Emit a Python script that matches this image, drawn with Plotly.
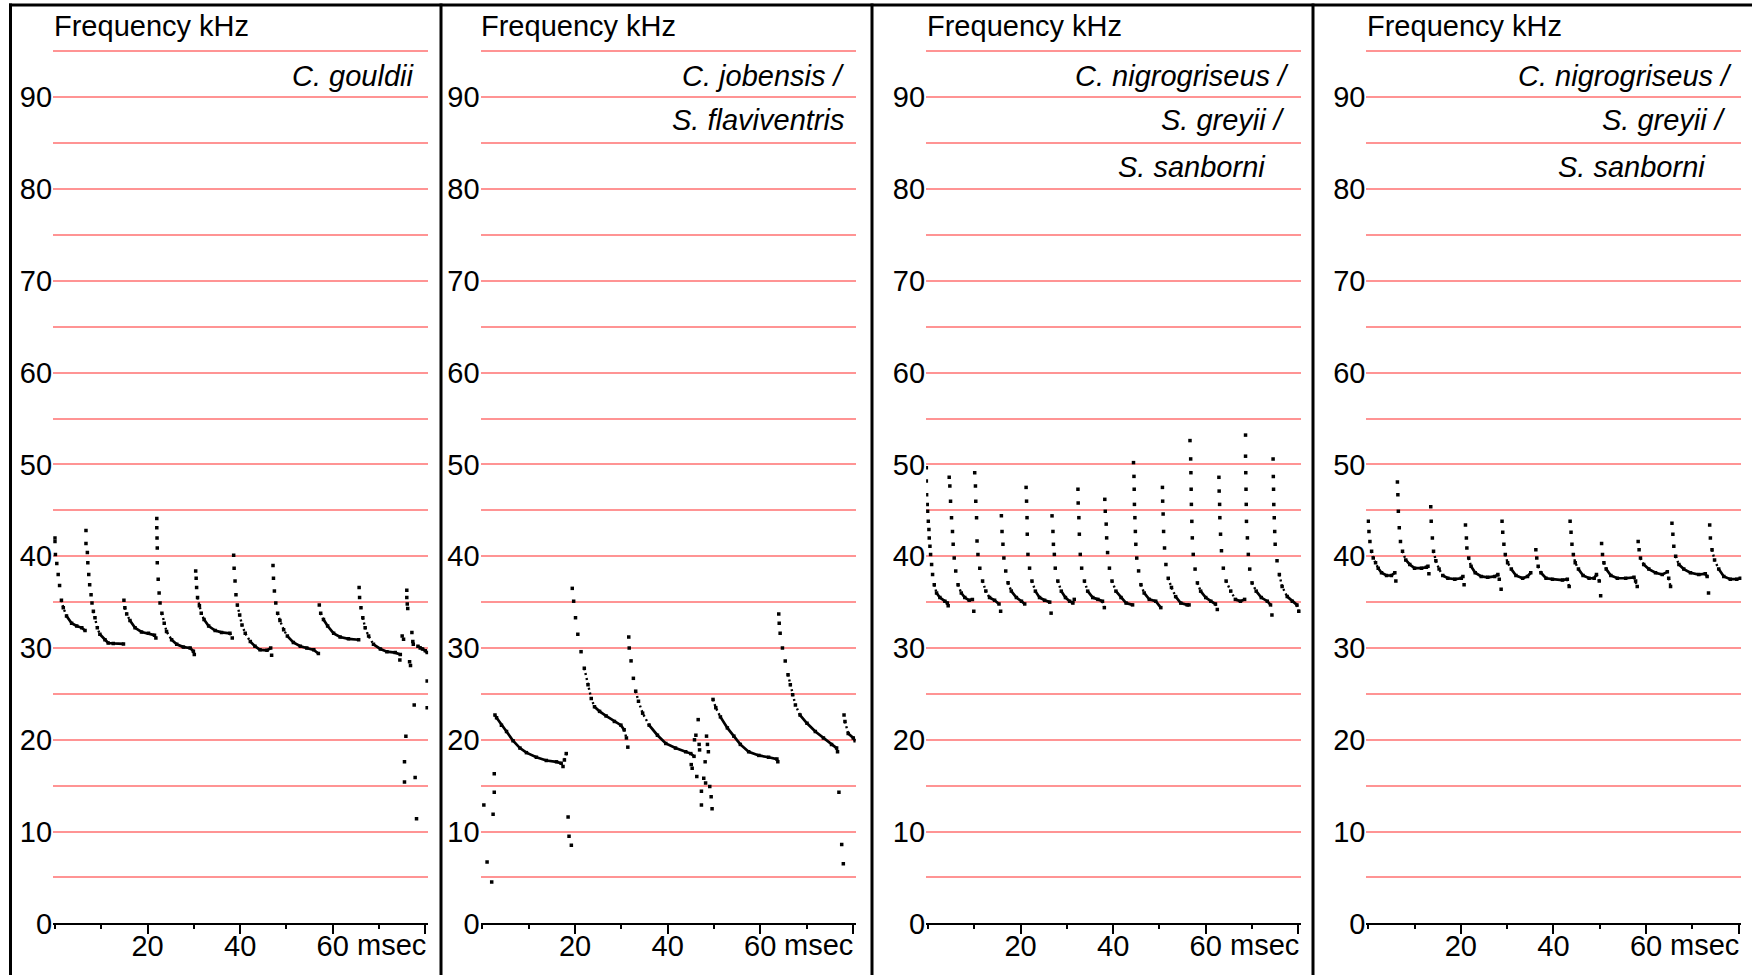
import plotly.graph_objects as go

# ---------------- data (time in msec, frequency in kHz) ----------------
P1_T = [
    [0.0, 0.0, 0.1, 0.4, 0.7, 1.0, 1.4, 1.8, 2.5, 3.6, 4.7, 5.8, 6.5],
    [6.7, 6.7, 7.0, 7.1, 7.3, 7.5, 7.8, 8.0, 8.3, 8.65, 9.15, 9.7, 10.8, 11.5, 12.6, 14.8],
    [14.9, 15.1, 15.5, 16.2, 17.3, 18.7, 20.2, 21.5, 21.8],
    [22.0, 22.0, 22.05, 22.1, 22.1, 22.3, 22.5, 22.7, 23.1, 23.6, 24.1, 25.2, 26.3, 27.75, 29.2, 29.9, 30.1],
    [30.4, 30.5, 30.6, 30.8, 31.2, 31.6, 32.2, 33.2, 34.6, 36.0, 37.8, 38.3],
    [38.6, 38.7, 38.9, 39.1, 39.4, 39.9, 40.4, 41.1, 42.2, 43.2, 44.3, 45.8, 46.6],
    [47.1, 47.2, 47.4, 47.7, 48.1, 48.6, 49.4, 50.2, 51.5, 53.0, 54.4, 55.9, 56.9],
    [57.1, 57.4, 58.0, 58.9, 60.2, 61.6, 63.4, 65.6],
    [65.7, 65.8, 66.1, 66.5, 67.0, 67.75, 68.8, 70.3, 71.7, 73.5, 74.6],
    [78.4, 78.9, 79.4, 80.0, 80.4],
]
P1_F = [
    [42.0, 41.6, 40.2, 39.2, 38.0, 36.8, 35.2, 34.4, 33.5, 32.7, 32.4, 32.2, 31.9],
    [42.8, 41.4, 40.4, 39.3, 38.0, 36.9, 35.8, 34.9, 34.0, 33.3, 32.2, 31.5, 30.9, 30.55, 30.5, 30.45],
    [35.2, 34.4, 33.7, 33.0, 32.2, 31.75, 31.6, 31.4, 31.1],
    [44.1, 43.1, 42.0, 40.9, 39.3, 37.5, 36.0, 34.9, 33.8, 32.7, 31.8, 30.9, 30.4, 30.1, 30.0, 29.65, 29.3],
    [38.4, 37.6, 36.6, 35.5, 34.6, 33.8, 33.1, 32.4, 31.9, 31.7, 31.6, 31.1],
    [40.1, 38.7, 37.3, 35.8, 34.7, 33.6, 32.5, 31.6, 30.7, 30.2, 29.8, 29.75, 30.0],
    [39.0, 37.6, 36.2, 34.9, 33.8, 33.0, 32.0, 31.3, 30.6, 30.2, 30.0, 29.8, 29.4],
    [34.7, 33.8, 33.1, 32.4, 31.6, 31.2, 31.0, 30.9],
    [36.6, 35.5, 34.4, 33.3, 32.2, 31.3, 30.4, 29.9, 29.6, 29.5, 29.3],
    [30.2, 30.0, 29.9, 29.7, 29.5],
]
P1_NOISE_T = [76.0, 76.0, 76.1, 76.2, 75.0, 75.3, 77.1, 77.3, 77.4, 74.5, 76.6, 76.8,
              80.4, 77.6, 80.4, 75.8, 75.5, 75.5, 77.8, 78.1, 46.8]
P1_NOISE_F = [36.3, 35.5, 34.8, 34.3, 31.3, 30.95, 31.7, 30.7, 30.4, 28.7, 28.5, 28.1,
              26.4, 23.8, 23.5, 20.4, 17.6, 15.4, 15.9, 11.4, 29.2]

P2_T = [
    [2.7, 3.05, 4.1, 5.2, 6.6, 8.1, 9.5, 11.65, 13.8, 16.0, 17.0, 17.4, 17.7, 18.1],
    [19.4, 19.7, 20.1, 20.6, 21.3, 22.0, 22.8, 23.5, 24.2, 25.3, 26.7, 28.5, 29.9, 30.6, 31.1, 31.4],
    [31.6, 31.7, 32.1, 32.6, 33.1, 33.7, 34.6, 36.0, 37.8, 39.6, 41.7, 43.9, 45.0, 45.7],
    [49.8, 50.4, 51.4, 52.9, 54.3, 55.7, 57.5, 59.7, 61.8, 63.6, 63.8],
    [64.0, 64.1, 64.3, 64.8, 65.4, 66.0, 66.5, 67.0, 67.6, 68.6, 70.1, 71.9, 73.65, 75.4, 76.5, 76.7],
    [78.1, 78.3, 79.0, 80.1, 80.5],
]
P2_F = [
    [22.7, 22.4, 21.6, 20.9, 19.9, 19.1, 18.6, 18.1, 17.75, 17.6, 17.45, 17.1, 17.8, 18.5],
    [36.5, 35.1, 33.3, 31.5, 29.6, 27.8, 26.0, 24.5, 23.6, 23.1, 22.6, 22.0, 21.6, 21.1, 20.2, 19.2],
    [31.2, 30.0, 28.6, 26.7, 25.3, 24.2, 22.9, 21.6, 20.5, 19.6, 19.1, 18.7, 18.5, 18.2],
    [24.4, 23.5, 22.5, 21.3, 20.4, 19.5, 18.7, 18.3, 18.1, 17.9, 17.6],
    [33.7, 32.7, 31.6, 30.0, 28.6, 27.1, 26.0, 24.9, 23.8, 22.7, 21.8, 20.9, 20.2, 19.5, 19.1, 18.7],
    [22.7, 22.0, 20.7, 20.2, 19.9],
]
P2_NOISE_T = [0.3, 1.0, 2.0, 2.3, 2.55, 2.55, 18.5, 18.7, 19.2,
              45.1, 45.3, 45.8, 46.1, 46.3, 46.6, 46.8, 46.9, 47.3, 47.3, 47.8, 48.1, 48.2,
              48.4, 48.6, 48.8, 49.1, 49.4, 49.6, 77.0, 77.6, 77.95]
P2_NOISE_F = [12.9, 6.7, 4.5, 11.9, 16.3, 14.3, 11.6, 9.5, 8.5,
              17.3, 16.9, 20.0, 20.5, 16.0, 22.2, 19.5, 18.9, 14.4, 12.9, 15.8, 17.6, 15.3,
              20.4, 19.5, 18.7, 14.9, 13.8, 12.5, 14.3, 8.6, 6.5]

P3_T = [
    [-0.35, -0.35, -0.29, -0.15, -0.07, 0.07, 0.21, 0.28, 0.43, 0.57, 0.79, 1.0, 1.36, 1.86, 2.58, 3.66, 4.2, 4.37],
    [4.59, 4.73, 4.88, 5.09, 5.3, 5.45, 5.67, 6.0, 6.5, 7.2, 7.96, 8.9, 9.6, 9.9],
    [10.1, 10.26, 10.33, 10.5, 10.6, 10.8, 11.2, 11.8, 12.5, 13.3, 14.4, 15.35, 15.7],
    [15.86, 16.0, 16.2, 16.4, 16.8, 17.3, 18.0, 19.1, 20.2, 20.9],
    [21.2, 21.3, 21.4, 21.45, 21.6, 21.95, 22.46, 23.2, 24.1, 25.2, 26.3, 26.6],
    [26.8, 27.0, 27.1, 27.3, 27.5, 28.05, 28.8, 29.7, 30.6, 31.3, 31.6],
    [32.4, 32.45, 32.6, 32.7, 32.9, 33.2, 33.8, 34.5, 35.6, 36.7, 37.7, 38.1],
    [38.2, 38.3, 38.5, 38.6, 38.8, 39.2, 39.75, 40.6, 41.7, 42.8, 44.2],
    [44.4, 44.5, 44.55, 44.6, 44.7, 44.8, 44.9, 45.1, 45.5, 46.0, 46.7, 47.8, 49.2, 50.3],
    [50.65, 50.7, 50.8, 50.9, 51.1, 51.4, 51.9, 52.6, 53.5, 54.6, 56.0, 56.4],
    [56.6, 56.75, 56.8, 56.85, 56.9, 57.0, 57.1, 57.3, 57.7, 58.2, 58.9, 60.0, 61.1, 62.1, 62.5],
    [62.85, 62.9, 63.0, 63.05, 63.2, 63.4, 63.8, 64.4, 65.4, 66.4, 67.5, 68.4],
    [68.6, 68.6, 68.65, 68.7, 68.75, 68.8, 69.0, 69.2, 69.5, 70.0, 70.9, 72.0, 73.3, 74.0, 74.3],
    [74.55, 74.6, 74.65, 74.7, 74.8, 74.9, 75.0, 75.4, 75.9, 76.5, 77.6, 78.7, 79.7, 80.1],
]
P3_F = [
    [49.65, 48.2, 46.7, 45.65, 44.9, 43.8, 42.9, 42.0, 41.1, 40.2, 39.1, 38.0, 36.9, 36.0, 35.5, 35.1, 34.9, 34.6],
    [48.6, 47.65, 46.0, 44.2, 42.7, 41.3, 39.8, 38.4, 36.9, 36.0, 35.5, 35.2, 35.3, 34.0],
    [49.1, 47.65, 46.0, 44.2, 41.65, 40.2, 38.7, 37.3, 36.2, 35.5, 35.2, 34.8, 34.0],
    [44.4, 42.7, 41.3, 39.8, 38.4, 37.1, 36.2, 35.5, 35.1, 34.8],
    [47.5, 46.0, 44.2, 42.4, 40.2, 38.7, 37.3, 36.2, 35.5, 35.2, 35.0, 33.8],
    [44.4, 42.7, 41.3, 40.2, 38.7, 37.3, 36.2, 35.5, 35.1, 34.9, 35.3],
    [47.3, 45.8, 44.2, 42.4, 40.2, 38.7, 37.3, 36.2, 35.5, 35.3, 35.1, 34.4],
    [46.2, 44.9, 43.5, 42.0, 40.4, 38.7, 37.3, 36.2, 35.5, 34.9, 34.7],
    [50.2, 48.7, 47.3, 45.65, 44.2, 42.7, 41.3, 39.8, 38.4, 36.9, 36.0, 35.3, 35.1, 34.4],
    [47.5, 46.0, 44.6, 42.7, 40.9, 39.1, 37.6, 36.6, 35.6, 34.9, 34.7, 34.7],
    [52.6, 50.6, 49.1, 47.3, 45.65, 43.8, 42.0, 40.2, 38.6, 37.1, 36.2, 35.5, 35.1, 34.8, 34.2],
    [48.6, 47.1, 45.65, 44.2, 42.4, 40.6, 38.7, 37.3, 36.2, 35.3, 35.1, 35.3],
    [53.2, 50.9, 49.1, 47.3, 45.65, 43.8, 42.0, 40.2, 38.6, 37.1, 36.2, 35.5, 35.1, 34.7, 33.6],
    [50.6, 48.7, 47.3, 45.65, 44.2, 42.7, 41.3, 39.5, 38.0, 36.7, 35.6, 35.1, 34.7, 34.0],
]
P3_NOISE_T = []
P3_NOISE_F = []

P4_T = [
    [0.0, 0.15, 0.36, 0.72, 1.08, 1.58, 2.15, 2.87, 3.95, 5.0, 5.74, 5.96],
    [6.3, 6.4, 6.5, 6.7, 6.96, 7.4, 8.1, 8.97, 10.0, 11.5, 12.56, 12.9, 13.1],
    [13.5, 13.6, 13.85, 14.1, 14.6, 15.3, 16.1, 17.2, 18.7, 20.1, 20.45, 20.7],
    [21.0, 21.2, 21.3, 21.7, 22.2, 23.1, 24.4, 25.8, 27.3, 28.0, 28.3, 28.7],
    [28.9, 29.05, 29.3, 29.6, 30.1, 30.9, 31.9, 33.35, 34.4, 35.1],
    [36.2, 36.4, 36.7, 37.3, 38.4, 39.8, 41.95, 43.0, 43.4],
    [43.6, 43.8, 44.0, 44.3, 44.7, 45.4, 46.4, 47.7, 48.8, 49.3, 49.9, 50.2],
    [50.4, 50.6, 50.9, 51.4, 52.4, 53.8, 55.6, 57.4, 57.75, 58.1],
    [58.3, 58.5, 58.8, 59.5, 60.6, 62.05, 63.5, 64.6, 64.9, 65.3],
    [65.6, 65.8, 66.0, 66.4, 67.1, 68.15, 69.6, 71.4, 72.8, 73.2, 73.5],
    [73.75, 73.9, 74.25, 74.8, 75.7, 76.8, 78.2, 79.6, 80.35],
]
P4_F = [
    [43.8, 42.7, 41.6, 40.55, 39.8, 39.3, 38.7, 38.2, 37.9, 37.9, 38.2, 37.3],
    [48.1, 46.7, 44.9, 43.1, 41.6, 40.55, 39.6, 39.1, 38.7, 38.7, 38.8, 38.9, 38.1],
    [45.4, 43.8, 42.0, 40.55, 39.5, 38.6, 37.9, 37.6, 37.5, 37.6, 37.8, 36.9],
    [43.4, 42.0, 40.9, 39.8, 38.9, 38.2, 37.8, 37.7, 37.8, 38.0, 37.5, 36.4],
    [43.8, 42.6, 41.3, 40.2, 39.3, 38.6, 37.9, 37.6, 37.8, 38.2],
    [40.7, 39.8, 38.9, 38.2, 37.6, 37.5, 37.4, 37.5, 36.7],
    [43.8, 42.6, 41.3, 40.2, 39.3, 38.6, 37.9, 37.6, 37.6, 38.0, 37.3, 35.7],
    [41.4, 40.2, 39.3, 38.6, 37.9, 37.6, 37.6, 37.7, 37.3, 36.7],
    [41.6, 40.7, 39.8, 39.1, 38.6, 38.2, 38.0, 38.3, 37.6, 36.7],
    [43.6, 42.4, 41.1, 40.0, 39.1, 38.6, 38.2, 38.0, 38.1, 37.8, 36.0],
    [43.4, 42.0, 40.7, 39.6, 38.6, 37.8, 37.5, 37.5, 37.6],
]
P4_NOISE_T = []
P4_NOISE_F = []

Y_TICKS = [0, 10, 20, 30, 40, 50, 60, 70, 80, 90]
X_TICKS = [20, 40, 60, 80]
X_TICK_TEXT = ["20", "40", "60", ""]
SPECIES = [
    ["C. gouldii"],
    ["C. jobensis /", "S. flaviventris"],
    ["C. nigrogriseus /", "S. greyii /", "S. sanborni"],
    ["C. nigrogriseus /", "S. greyii /", "S. sanborni"],
]

PANELS = [
    (P1_T, P1_F, P1_NOISE_T, P1_NOISE_F),
    (P2_T, P2_F, P2_NOISE_T, P2_NOISE_F),
    (P3_T, P3_F, P3_NOISE_T, P3_NOISE_F),
    (P4_T, P4_F, P4_NOISE_T, P4_NOISE_F),
]

# ---------------- layout geometry ----------------
W = 1752
H = 975                   # drawn height of the paper
H_REQ = H + 18            # the page draws the figure 18 px shorter than requested
PLOT_W = 375.0
LEFTS = [53.1, 480.6, 926.1, 1366.4]
X_RANGE = [-0.4, 80.6]
Y_RANGE = [0, 95.3]
Y_BOTTOM_PX, Y_TOP_PX = 921.5, 921.5 - 95.3 * 9.16
PX_PER_MS = PLOT_W / (X_RANGE[1] - X_RANGE[0])
PX_PER_KHZ = (Y_BOTTOM_PX - Y_TOP_PX) / (Y_RANGE[1] - Y_RANGE[0])
FONT = "Liberation Sans, Arial, sans-serif"
FS = 29
GRID = "#ff9494"

# label positions (x in msec of right edge, y in kHz of centre)
LABEL_X = [[78.0], [78.7, 78.5], [78.5, 77.5, 73.4], [79.0, 77.8, 73.4]]
LABEL_Y = [92.3, 87.5, 82.4]

fig = go.Figure()


def split_segments(ts, fs):
    """Group consecutive segments into shallow / medium classes (steep ones stay dots only)."""
    groups = {"solid": ([], []), "dot": ([], [])}
    prev_cls = None
    for i in range(len(ts) - 1):
        dx = abs(ts[i + 1] - ts[i]) * PX_PER_MS
        dy = abs(fs[i + 1] - fs[i]) * PX_PER_KHZ
        slope = dy / dx if dx > 0 else 99
        cls = "solid" if slope < 1.6 else ("dot" if slope < 4.5 else None)
        if cls is not None:
            gx, gy = groups[cls]
            if prev_cls != cls:
                if gx:
                    gx.append(None)
                    gy.append(None)
                gx.append(ts[i])
                gy.append(fs[i])
            gx.append(ts[i + 1])
            gy.append(fs[i + 1])
        prev_cls = cls
    return groups


for k, (CT, CF, NT, NF) in enumerate(PANELS):
    xa = "x" if k == 0 else f"x{k + 1}"
    ya = "y" if k == 0 else f"y{k + 1}"
    sx, sy, dx_, dy_, mx, my = [], [], [], [], [], []
    for ts, fs in zip(CT, CF):
        g = split_segments(ts, fs)
        for name, (ax, ay) in g.items():
            if ax:
                if name == "solid":
                    sx += ax + [None]
                    sy += ay + [None]
                else:
                    dx_ += ax + [None]
                    dy_ += ay + [None]
        mx += ts
        my += fs
    mx += NT
    my += NF
    fig.add_trace(go.Scatter(x=sx, y=sy, mode="lines", xaxis=xa, yaxis=ya,
                             line=dict(color="black", width=2.7), hoverinfo="skip",
                             showlegend=False, connectgaps=False))
    fig.add_trace(go.Scatter(x=dx_, y=dy_, mode="lines", xaxis=xa, yaxis=ya,
                             line=dict(color="black", width=2.4, dash="2px,3px"),
                             hoverinfo="skip", showlegend=False, connectgaps=False))
    fig.add_trace(go.Scatter(x=mx, y=my, mode="markers", xaxis=xa, yaxis=ya,
                             marker=dict(color="black", size=3.5, symbol="square",
                                         line=dict(width=0)),
                             hoverinfo="skip", showlegend=False))

layout = dict(
    width=W, height=H_REQ, autosize=False, margin=dict(l=0, r=0, t=0, b=0, pad=0),
    paper_bgcolor="white", plot_bgcolor="white",
    font=dict(family=FONT, size=FS, color="black"),
    showlegend=False,
)
ydom = [(H - Y_BOTTOM_PX) / H, (H - Y_TOP_PX) / H]
annotations = []
for k in range(4):
    sfx = "" if k == 0 else str(k + 1)
    L = LEFTS[k]
    layout[f"xaxis{sfx}"] = dict(
        domain=[L / W, (L + PLOT_W) / W], range=X_RANGE, anchor=f"y{sfx}",
        showgrid=False, zeroline=False, showline=True, linecolor="black", linewidth=1.5,
        ticks="outside", ticklen=9, tickwidth=1.5, tickcolor="black",
        tickvals=X_TICKS, ticktext=X_TICK_TEXT, ticklabelstandoff=-13,
        tickfont=dict(family=FONT, size=FS, color="black"),
        minor=dict(tickvals=[0, 10, 30, 50, 70], ticks="outside", ticklen=4,
                   tickwidth=1.5, tickcolor="black", showgrid=False),
        fixedrange=True,
    )
    layout[f"yaxis{sfx}"] = dict(
        domain=ydom, range=Y_RANGE, anchor=f"x{sfx}",
        showgrid=True, gridcolor=GRID, gridwidth=1.5,
        zeroline=False, showline=False, ticks="",
        tickvals=Y_TICKS, tickfont=dict(family=FONT, size=FS, color="black"),
        minor=dict(tickvals=[5, 15, 25, 35, 45, 55, 65, 75, 85, 95], showgrid=True,
                   gridcolor=GRID, gridwidth=1.5, ticks=""),
        fixedrange=True,
    )
    annotations.append(dict(text="Frequency kHz", xref=f"x{sfx} domain", x=-0.004,
                            xanchor="left", yref="paper", y=1 - 26 / H, yanchor="middle",
                            showarrow=False, font=dict(family=FONT, size=FS, color="black")))
    annotations.append(dict(text="msec", xref=f"x{sfx}", x=64.8, xanchor="left",
                            yref="paper", y=1 - 943 / H, yanchor="middle", showarrow=False,
                            font=dict(family=FONT, size=FS, color="black")))
    for j, line in enumerate(SPECIES[k]):
        annotations.append(dict(text=f"<i>{line}</i>", xref=f"x{sfx}", x=LABEL_X[k][j],
                                xanchor="right", yref=f"y{sfx}", y=LABEL_Y[j],
                                yanchor="middle", showarrow=False,
                                font=dict(family=FONT, size=FS, color="black")))
layout["annotations"] = annotations

shapes = [dict(type="line", xref="paper", yref="paper", x0=9 / W, x1=1, y0=1 - 5 / H,
               y1=1 - 5 / H, line=dict(color="black", width=3))]
for bx in [10.5, 441, 872, 1313]:
    shapes.append(dict(type="line", xref="paper", yref="paper", x0=bx / W, x1=bx / W,
                       y0=0, y1=1 - 3.5 / H, line=dict(color="black", width=3)))
layout["shapes"] = shapes

fig.update_layout(**layout)
fig.write_html("out.html", config={"responsive": False, "displayModeBar": False})
